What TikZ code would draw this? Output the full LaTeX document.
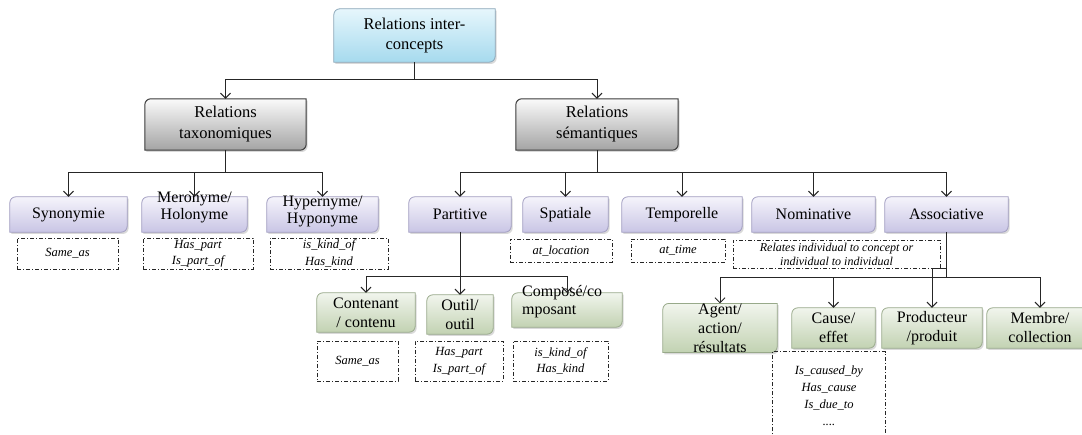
\documentclass[tikz,border=0pt]{standalone}
\usepackage{fontspec}
\setmainfont{Liberation Serif}
\usetikzlibrary{arrows.meta,shadows,backgrounds}
\definecolor{bluetop}{HTML}{E6F6FC}
\definecolor{bluebot}{HTML}{A6DAEE}
\definecolor{blueline}{HTML}{8AA6B8}
\definecolor{graytop}{HTML}{FAFAFA}
\definecolor{graybot}{HTML}{A4A4A4}
\definecolor{grayline}{HTML}{3A3A3A}
\definecolor{purptop}{HTML}{F5F4FB}
\definecolor{purpbot}{HTML}{C9C5E5}
\definecolor{purpline}{HTML}{A09CC0}
\definecolor{greentop}{HTML}{F1F5ED}
\definecolor{greenbot}{HTML}{C2D2B2}
\definecolor{greenline}{HTML}{98A98A}
\newcommand\dgshape[2]{%
  \path[#1] (#2.south west) -- ([yshift=-6pt]#2.north west)
    arc[start angle=180,end angle=90,radius=6pt] -- (#2.north east)
    -- ([yshift=6pt]#2.south east)
    arc[start angle=0,end angle=-90,radius=6pt] -- cycle;}
\tikzset{
  bx/.style={shape=rectangle, inner sep=0pt, align=center,
    font=\fontsize{16}{19}\selectfont},
  txt/.style={inner sep=0pt, align=center, font=\fontsize{16}{17}\selectfont},
  dbox/.style={shape=rectangle, draw=black!85, dash pattern=on 4pt off 2pt on 1pt off 2pt,
    line width=0.8pt, inner sep=0pt, align=center,
    font=\itshape\fontsize{12.5}{16.5}\selectfont},
  conn/.style={line width=1pt, black!85},
  arr/.style={conn, -{Straight Barb[length=5pt,width=10pt,line width=1pt]}},
  shd/.style={drop shadow={shadow xshift=1.5pt, shadow yshift=-1.8pt, opacity=0.3}},
  blueshape/.style={shd, top color=bluetop, bottom color=bluebot, draw=blueline, line width=0.8pt},
  grayshape/.style={shd, top color=graytop, bottom color=graybot, draw=grayline, line width=1pt},
  purpshape/.style={shd, top color=purptop, bottom color=purpbot, draw=purpline, line width=0.8pt},
  greenshape/.style={shd, top color=greentop, bottom color=greenbot, draw=greenline, line width=0.8pt},
}
\begin{document}
\begin{tikzpicture}[x=1pt,y=1pt]
\useasboundingbox (0,0) rectangle (1082,-435);
% level 1-2
\node[bx, minimum width=161pt, minimum height=53pt, font=\fontsize{16.5}{20}\selectfont] (root) at (414.5,-35.5) {Relations inter-\\concepts};
\node[bx, minimum width=161pt, minimum height=51pt, font=\fontsize{16.5}{21}\selectfont] (tax) at (225.5,-124.5) {Relations\\taxonomiques};
\node[bx, minimum width=162pt, minimum height=51pt, font=\fontsize{16.5}{21}\selectfont] (sem) at (597,-124.5) {Relations\\sémantiques};
% level 3
\node[bx, minimum width=117pt, minimum height=35pt] (syn) at (68.5,-214.5) {Synonymie};
\node[bx, minimum width=105pt, minimum height=35pt] (mer) at (194.5,-214.5) {};
\node[txt] (mertxt) at (194.5,-207) {Meronyme/\\Holonyme};
\node[bx, minimum width=111pt, minimum height=35pt] (hyp) at (322.5,-214.5) {};
\node[txt] (hyptxt) at (322.5,-211) {Hypernyme/\\Hyponyme};
\node[bx, minimum width=102pt, minimum height=35pt] (part) at (460,-214.5) {Partitive};
\node[bx, minimum width=85pt, minimum height=35pt] (spat) at (565.5,-214.5) {Spatiale};
\node[bx, minimum width=120pt, minimum height=35pt] (temp) at (682,-214.5) {Temporelle};
\node[bx, minimum width=123pt, minimum height=35pt] (nom) at (813.5,-214.5) {Nominative};
\node[bx, minimum width=123pt, minimum height=35pt] (asso) at (946.5,-214.5) {Associative};
% dashed under level 3
\node[dbox, minimum width=101pt, minimum height=31pt] (dsyn) at (67.5,-253.5) {Same\_as};
\node[dbox, minimum width=110pt, minimum height=31pt] (dmer) at (198,-253.5) {Has\_part\\Is\_part\_of};
\node[dbox, minimum width=118pt, minimum height=31pt] (dhyp) at (329,-253.5) {is\_kind\_of\\Has\_kind};
\node[dbox, minimum width=102pt, minimum height=23pt] (dspat) at (561,-250.5) {at\_location};
\node[dbox, minimum width=94pt, minimum height=23pt] (dtemp) at (678,-250.5) {at\_time};
\node[dbox, minimum width=207pt, minimum height=28pt, font=\itshape\fontsize{12}{14}\selectfont] (dnom) at (836.5,-254) {Relates individual to concept or\\individual to individual};
% level 4
\node[bx, minimum width=98pt, minimum height=39pt] (cont) at (366,-312.5) {Contenant\\/ contenu};
\node[bx, minimum width=66pt, minimum height=39pt] (outil) at (460,-314.5) {Outil/\\outil};
\node[bx, minimum width=110pt, minimum height=34pt] (comp) at (567,-310) {};
\node[txt, align=left, anchor=west, font=\fontsize{16}{18}\selectfont] (comptxt) at (522,-302) {Composé/co\\mposant};
\node[bx, minimum width=114pt, minimum height=40pt] (agent) at (720,-328) {Agent/\\action/\\résultats};
\node[bx, minimum width=83pt, minimum height=40pt] (cause) at (833.5,-328) {Cause/\\effet};
\node[bx, minimum width=100pt, minimum height=40pt] (prod) at (932,-328) {Producteur\\/produit};
\node[bx, minimum width=106pt, minimum height=40pt] (memb) at (1040,-328) {Membre/\\collection};
% dashed under level 4
\node[dbox, minimum width=81pt, minimum height=40pt] (dcont) at (357.5,-361) {Same\_as};
\node[dbox, minimum width=88pt, minimum height=40pt] (doutil) at (459,-361) {Has\_part\\Is\_part\_of};
\node[dbox, minimum width=95pt, minimum height=40pt] (dcomp) at (560.5,-361) {is\_kind\_of\\Has\_kind};
\node[dbox, draw=none, minimum width=112pt, minimum height=88pt, font=\itshape\fontsize{12.5}{17}\selectfont] (dcause) at (829,-396) {Is\_caused\_by\\Has\_cause\\Is\_due\_to\\....};
\draw[dbox] (dcause.south west) -- (dcause.north west) -- (dcause.north east) -- (dcause.south east);
% shapes
\begin{scope}[on background layer]
\dgshape{blueshape}{root}
\dgshape{grayshape}{tax}
\dgshape{grayshape}{sem}
\foreach \n in {syn,mer,hyp,part,spat,temp,nom,asso}{\dgshape{purpshape}{\n}}
\foreach \n in {cont,outil,comp,agent,cause,prod,memb}{\dgshape{greenshape}{\n}}
\end{scope}
% connectors
\coordinate (rbar) at (414.5,-80);
\draw[conn] (root.south) -- (rbar);
\draw[arr] (rbar) -| (tax.north);
\draw[arr] (rbar) -| (sem.north);
\coordinate (tbar) at (225.5,-173);
\draw[conn] (tax.south) -- (tbar);
\foreach \n in {syn,mer,hyp}{\draw[arr] (tbar) -| (\n.north);}
\coordinate (sbar) at (597,-173);
\draw[conn] (sem.south) -- (sbar);
\foreach \n in {part,spat,temp,nom,asso}{\draw[arr] (sbar) -| (\n.north);}
\coordinate (pbar) at (460,-277);
\draw[conn] (part.south) -- (pbar);
\foreach \n in {cont,outil,comp}{\draw[arr] (pbar) -| (\n.north);}
\coordinate (abar) at (946.5,-278);
\draw[conn] (asso.south) -- (abar);
\foreach \n in {agent,cause,memb}{\draw[arr] (abar) -| (\n.north);}
\coordinate (ajog) at (932,-269);
\draw[arr] (asso.south |- ajog) -- (ajog) -- (prod.north);
\end{tikzpicture}
\end{document}
